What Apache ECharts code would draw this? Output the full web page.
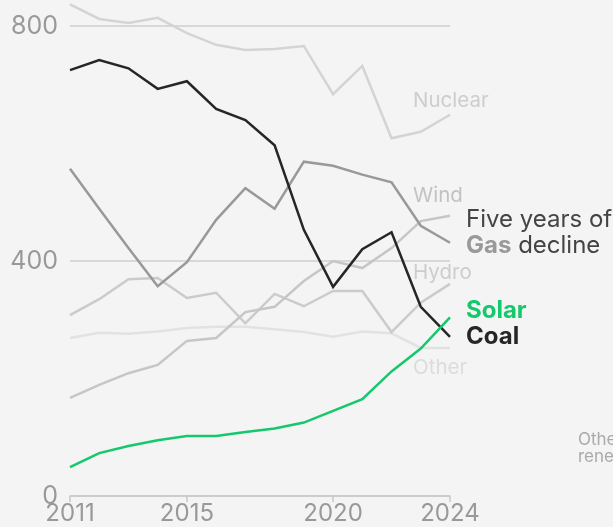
<!DOCTYPE html>
<html><head><meta charset="utf-8">
<script src="https://cdn.jsdelivr.net/npm/echarts@6/dist/echarts.min.js"></script>
<style>html,body{margin:0;padding:0;background:#f4f4f4;}#c{width:613px;height:527px;}</style>
</head><body><div id="c"></div>
<script>
const years = ['2011','2012','2013','2014','2015','2016','2017','2018','2019','2020','2021','2022','2023','2024'];
const shownYears = ['2011','2015','2020','2024'];
const yTicks = [0, 400, 800];
const nuclear = [837, 812, 805, 814, 788, 768, 759, 761, 766, 684, 732, 609, 620, 649];
const coal = [725, 742, 728, 693, 706, 659, 640, 597, 453, 356, 420, 449, 322, 271];
const gas = [557, 489, 422, 357, 398, 470, 524, 489, 569, 562, 547, 534, 460, 431];
const wind = [167, 189, 209, 223, 264, 269, 313, 322, 366, 400, 388, 422, 468, 477];
const hydro = [308, 335, 369, 371, 337, 346, 294, 344, 323, 349, 349, 279, 329, 361];
const other = [269, 278, 276, 280, 286, 288, 288, 284, 279, 271, 280, 277, 252, 252];
const solar = [49, 73, 85, 95, 102, 102, 109, 115, 125, 145, 165, 212, 251, 304];

const FONT = 'Inter, "Noto Sans", sans-serif';
const showIdx = (i) => shownYears.includes(years[i]);
function line(name, data, color, width, z) {
  return { name, type: 'line', data, clip: false, symbol: 'none', z,
    lineStyle: { color, width, join: 'miter' }, emphasis: { disabled: true } };
}
function label(x, y, text, fill, font) {
  return { type: 'text', x, y, style: { text, fill, font, verticalAlign: 'middle', align: 'left' } };
}
const chart = echarts.init(document.getElementById('c'), null, { renderer: 'canvas' });
chart.setOption({
  backgroundColor: '#f4f4f4',
  animation: false,
  grid: { left: 70, right: 163, top: 26, bottom: 31, containLabel: false },
  xAxis: {
    type: 'category', data: years, boundaryGap: false,
    axisLine: { show: true, lineStyle: { color: '#c8c8c8', width: 1.5 } },
    axisTick: { show: true, length: 6, interval: (i) => showIdx(i), lineStyle: { color: '#c8c8c8', width: 1.5 } },
    axisLabel: { interval: (i) => showIdx(i), color: '#999', fontSize: 24, fontFamily: FONT, margin: 6 },
    splitLine: { show: false }
  },
  yAxis: {
    type: 'value', min: 0, max: 800, interval: 400,
    axisLine: { show: false }, axisTick: { show: false },
    axisLabel: { color: '#999', fontSize: 25, fontFamily: FONT, margin: 12,
      formatter: (v) => yTicks.includes(v) ? String(v) : '' },
    splitLine: { show: true, lineStyle: { color: '#cfcfcf', width: 1.5 } }
  },
  series: [
    line('Other', other, '#e2e2e2', 2.5, 2),
    line('Nuclear', nuclear, '#d4d4d4', 2.5, 3),
    line('Hydro', hydro, '#cbcbcb', 2.5, 3),
    line('Wind', wind, '#c6c6c6', 2.5, 4),
    line('Gas', gas, '#999999', 2.5, 5),
    line('Coal', coal, '#262626', 2.5, 7),
    line('Solar', solar, '#14c96c', 2.5, 8)
  ],
  graphic: [
    label(413, 101, 'Nuclear', '#cdcdcd', '20.5px ' + FONT),
    label(413, 196, 'Wind', '#c2c2c2', '20.5px ' + FONT),
    label(413, 273, 'Hydro', '#cdcdcd', '20.5px ' + FONT),
    label(413, 368, 'Other', '#dcdcdc', '20.5px ' + FONT),
    label(466, 220, 'Five years of', '#444', '24px ' + FONT),
    { type: 'text', x: 466, y: 246, style: { verticalAlign: 'middle', rich: { g: { fill: '#999', font: 'bold 24px ' + FONT }, d: { fill: '#444', font: '24px ' + FONT } }, text: '{g|Gas}{d| decline}' } },
    label(466, 311, 'Solar', '#14c96c', 'bold 24px ' + FONT),
    label(466, 337, 'Coal', '#262626', 'bold 24px ' + FONT),
    label(578, 440, 'Other', '#aaa', '17px ' + FONT),
    label(578, 457, 'renewables', '#aaa', '17px ' + FONT)
  ]
});
</script></body></html>
